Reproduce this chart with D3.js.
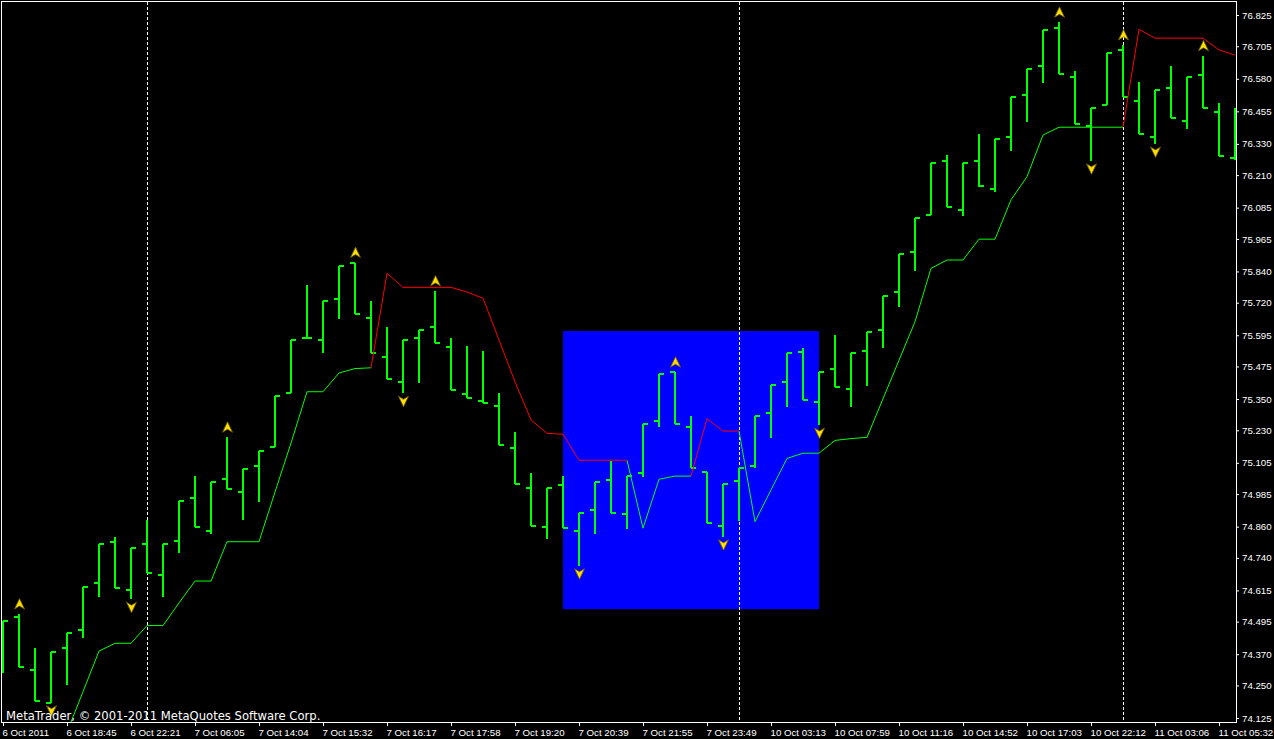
<!DOCTYPE html>
<html><head><meta charset="utf-8">
<script src="https://cdn.jsdelivr.net/npm/d3@7"></script>
<style>html,body{margin:0;padding:0;background:#000;overflow:hidden}</style>
</head><body>
<script>
// ---- data ----
const opens = [74.386,74.514,74.309,74.184,74.395,74.463,74.645,74.802,74.617,74.792,
74.674,74.805,74.971,74.844,75.042,74.994,75.093,75.167,75.374,75.584,
75.578,75.735,75.874,75.662,75.513,75.417,75.584,75.626,75.550,75.371,
75.343,75.325,75.163,75.010,74.857,75.020,74.844,74.924,75.039,74.907,
75.067,75.267,75.453,75.244,75.071,74.862,75.035,75.093,75.298,75.417,
75.532,75.337,75.464,75.387,75.536,75.616,75.760,75.916,76.057,76.265,
76.076,76.265,76.157,76.358,76.518,76.629,76.776,76.586,76.399,76.479,
76.691,76.496,76.358,76.546,76.419,76.595,76.451,76.275];
const highs = [74.498,74.524,74.394,74.380,74.451,74.629,74.793,74.821,74.779,74.885,
74.792,74.960,75.054,75.033,75.203,75.083,75.152,75.363,75.576,75.787,
75.725,75.862,75.874,75.725,75.626,75.576,75.614,75.765,75.583,75.554,
75.535,75.372,75.222,75.065,75.010,75.054,74.911,75.033,75.112,75.054,
75.253,75.445,75.453,75.285,75.071,75.023,75.084,75.284,75.403,75.526,
75.545,75.453,75.596,75.526,75.606,75.745,75.906,76.044,76.255,76.287,
76.255,76.368,76.348,76.509,76.616,76.766,76.797,76.610,76.467,76.678,
76.710,76.569,76.537,76.629,76.586,76.668,76.486,76.467];
const lows = [74.299,74.321,74.190,74.184,74.252,74.432,74.591,74.623,74.581,74.681,
74.591,74.760,74.857,74.832,75.005,74.885,74.953,75.167,75.374,75.584,
75.526,75.656,75.677,75.526,75.428,75.372,75.413,75.565,75.385,75.355,
75.334,75.174,75.024,74.862,74.811,74.854,74.710,74.831,74.914,74.852,
75.052,75.244,75.254,75.084,74.874,74.821,74.882,75.084,75.202,75.321,
75.346,75.250,75.397,75.321,75.401,75.545,75.705,75.843,76.057,76.086,
76.054,76.166,76.146,76.304,76.415,76.565,76.598,76.406,76.265,76.479,
76.509,76.368,76.330,76.428,76.386,76.467,76.285,76.268];
const closes = [74.498,74.322,74.190,74.380,74.450,74.629,74.792,74.623,74.779,74.681,
74.792,74.960,74.857,75.033,75.005,75.083,75.152,75.363,75.576,75.584,
75.725,75.862,75.677,75.526,75.428,75.576,75.614,75.565,75.385,75.355,
75.334,75.174,75.024,74.862,75.010,74.854,74.911,75.033,74.914,75.054,
75.253,75.445,75.254,75.086,74.874,75.023,75.084,75.284,75.403,75.526,
75.346,75.453,75.397,75.526,75.606,75.745,75.906,76.044,76.255,76.086,
76.255,76.168,76.348,76.509,76.616,76.766,76.598,76.406,76.467,76.678,
76.509,76.368,76.537,76.428,76.586,76.467,76.285,76.300];
const _ = null;
const greenLine = [_,_,_,74.030,74.071,74.226,74.382,74.412,74.412,74.480,
74.480,74.567,74.651,74.651,74.802,74.802,74.802,74.993,75.181,75.378,
75.378,75.450,75.467,75.470,_,_,_,_,_,_,
_,_,_,_,_,_,_,_,_,75.115,
74.854,75.042,75.054,75.054,_,_,75.227,74.879,75.001,75.122,
75.142,75.142,75.191,75.198,75.203,75.351,75.499,75.647,75.852,75.884,
75.884,75.964,75.964,76.115,76.204,76.364,76.394,76.394,76.394,76.394,
76.394,_,_,_,_,_,_,_];
const redLine = [_,_,_,_,_,_,_,_,_,_,
_,_,_,_,_,_,_,_,_,_,
_,_,_,75.470,75.833,75.779,75.779,75.779,75.779,75.761,
75.737,75.577,75.416,75.270,75.218,75.215,75.115,75.115,75.115,75.115,
_,_,_,75.054,75.275,75.227,75.227,_,_,_,
_,_,_,_,_,_,_,_,_,_,
_,_,_,_,_,_,_,_,_,_,
76.394,76.770,76.736,76.736,76.736,76.736,76.691,76.671];
const upArrowBars = [1,14,22,27,42,66,70,75];
const downArrowBars = [3,8,25,36,45,51,68,72];
const separatorBars = [9,46,70];
const rectBars = [35,51];
const rectPrices = [75.611,74.543];
const timeTickBars = [0,4,8,12,16,20,24,28,32,36,40,44,48,52,56,60,64,68,72,76];
const timeLabels = ["6 Oct 2011","6 Oct 18:45","6 Oct 22:21","7 Oct 06:05","7 Oct 14:04",
"7 Oct 15:32","7 Oct 16:17","7 Oct 17:58","7 Oct 19:20","7 Oct 20:39","7 Oct 21:55",
"7 Oct 23:49","10 Oct 03:13","10 Oct 07:59","10 Oct 11:16","10 Oct 14:52","10 Oct 17:03",
"10 Oct 22:12","11 Oct 03:06","11 Oct 05:32"];
const priceTicks = [76.825,76.705,76.580,76.455,76.330,76.210,76.085,75.965,75.840,75.720,
75.595,75.475,75.350,75.230,75.105,74.985,74.860,74.740,74.615,74.495,74.370,74.250,74.125];
const copyright = "MetaTrader, \u00a9 2001-2011 MetaQuotes Software Corp.";

// ---- drawing ----
const W = 1274, H = 739;
const L = 2, R = 1236, T = 2, B = 722;
const svg = d3.select('body').append('svg').attr('width', W).attr('height', H)
  .style('display', 'block').style('background', '#000');
const x = d3.scaleLinear().domain([0, 77]).range([3, 1235]);
const y = d3.scaleLinear().domain([74.1096, 76.8749]).range([B, T]);
const ry = v => Math.round(y(v));

svg.append('defs').append('clipPath').attr('id', 'plot')
  .append('rect').attr('x', L).attr('y', T).attr('width', R - L).attr('height', B - T);
const plot = svg.append('g').attr('clip-path', 'url(#plot)');

// blue rectangle object
plot.append('rect')
  .attr('x', x(rectBars[0])).attr('width', x(rectBars[1]) - x(rectBars[0]))
  .attr('y', y(rectPrices[0])).attr('height', y(rectPrices[1]) - y(rectPrices[0]))
  .attr('fill', '#0000ff');

// period separators
plot.selectAll('line.sep').data(separatorBars).join('line').attr('class', 'sep')
  .attr('x1', d => x(d) + 0.5).attr('x2', d => x(d) + 0.5)
  .attr('y1', T).attr('y2', B)
  .attr('stroke', '#fff').attr('stroke-width', 1).attr('stroke-dasharray', '3,2');

// OHLC bars
const idx = d3.range(opens.length);
const barG = plot.append('g').attr('stroke', '#00ff00').attr('stroke-width', 2).attr('fill', 'none');
barG.selectAll('line.hl').data(idx).join('line').attr('class', 'hl')
  .attr('x1', i => x(i)).attr('x2', i => x(i))
  .attr('y1', i => ry(highs[i])).attr('y2', i => ry(lows[i]));
barG.selectAll('line.op').data(idx).join('line').attr('class', 'op')
  .attr('x1', i => x(i) - 5).attr('x2', i => x(i))
  .attr('y1', i => ry(opens[i])).attr('y2', i => ry(opens[i]));
barG.selectAll('line.cl').data(idx).join('line').attr('class', 'cl')
  .attr('x1', i => x(i)).attr('x2', i => x(i) + 5)
  .attr('y1', i => ry(closes[i])).attr('y2', i => ry(closes[i]));

// indicator line (green / red)
const lineGen = d3.line().defined(d => d != null).x((d, i) => x(i)).y(d => y(d));
plot.append('path').attr('d', lineGen(greenLine)).attr('fill', 'none')
  .attr('stroke', '#00ff00').attr('stroke-width', 1);
plot.append('path').attr('d', lineGen(redLine)).attr('fill', 'none')
  .attr('stroke', '#ff0000').attr('stroke-width', 1);

// arrows
function upArrow(cx, cy) {
  return `M${cx},${cy - 5.5}L${cx + 5},${cy + 5}L${cx},${cy + 2}L${cx - 5},${cy + 5}Z`;
}
function downArrow(cx, cy) {
  return `M${cx},${cy + 5.5}L${cx + 5},${cy - 5}L${cx},${cy - 2}L${cx - 5},${cy - 5}Z`;
}
const arrowG = plot.append('g');
arrowG.selectAll('path.up').data(upArrowBars).join('path').attr('class', 'up')
  .attr('d', i => upArrow(x(i) + 0.5, y(highs[i]) - 10))
  .attr('fill', '#ffe000').attr('stroke', '#6e5c00').attr('stroke-width', 0.8);
arrowG.selectAll('path.dn').data(downArrowBars).join('path').attr('class', 'dn')
  .attr('d', i => downArrow(x(i) + 0.5, y(lows[i]) + 8))
  .attr('fill', '#ffe000').attr('stroke', '#6e5c00').attr('stroke-width', 0.8);

// frame
svg.append('rect').attr('x', L - 0.5).attr('y', T - 0.5).attr('width', R - L + 1).attr('height', B - T + 1)
  .attr('fill', 'none').attr('stroke', '#fff').attr('stroke-width', 1);

// axes
const axisFont = '"Liberation Sans", Arial, sans-serif';
const yAxis = svg.append('g').attr('transform', `translate(${R},0)`)
  .call(d3.axisRight(y).tickValues(priceTicks).tickFormat(d3.format('.3f')).tickSize(3).tickPadding(3));
yAxis.select('.domain').remove();
yAxis.selectAll('line').attr('stroke', '#fff');
yAxis.selectAll('text').attr('fill', '#fff').style('font-family', axisFont).style('font-size', '9.7px');

const xAxis = svg.append('g').attr('transform', `translate(0,${B})`)
  .call(d3.axisBottom(x).tickValues(timeTickBars).tickFormat((d, i) => timeLabels[i]).tickSize(4).tickPadding(3));
xAxis.select('.domain').remove();
xAxis.selectAll('line').attr('stroke', '#fff');
xAxis.selectAll('text').attr('fill', '#fff').attr('text-anchor', 'start').attr('x', -1)
  .style('font-family', axisFont).style('font-size', '9.7px');

// copyright
svg.append('text').attr('x', 6).attr('y', 720).text(copyright)
  .attr('fill', '#fff').style('font-family', '"DejaVu Sans", sans-serif').style('font-size', '11.6px');
</script>
</body></html>
